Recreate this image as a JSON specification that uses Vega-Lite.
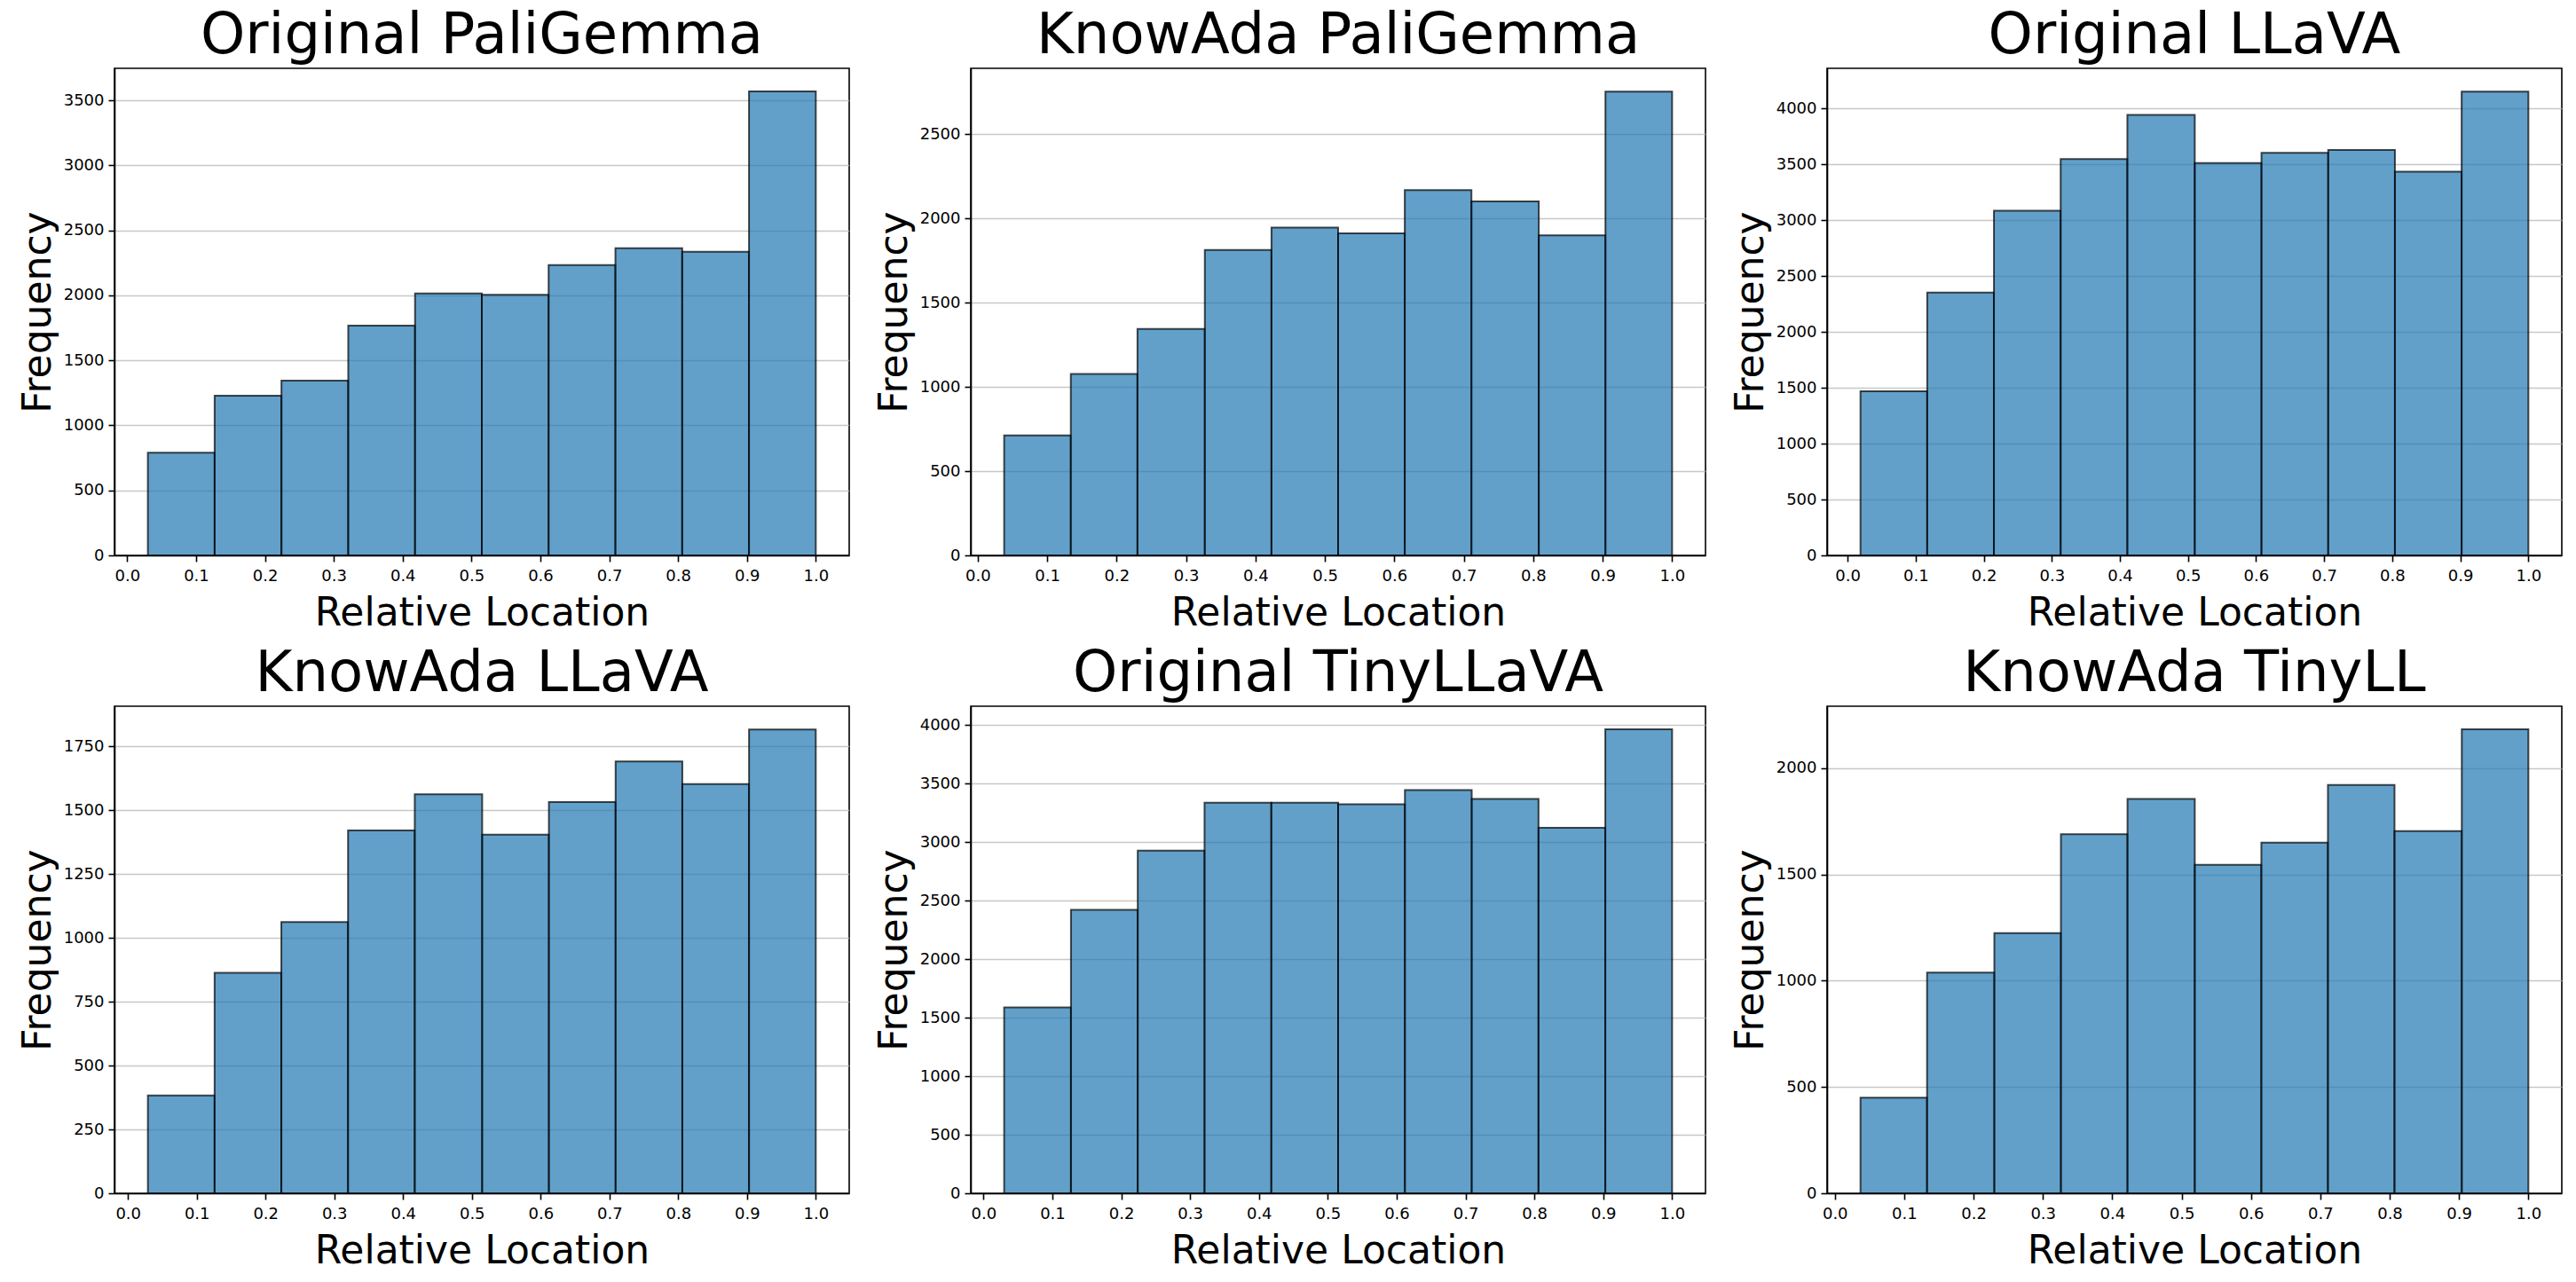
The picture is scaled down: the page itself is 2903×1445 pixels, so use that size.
{
  "$schema": "https://vega.github.io/schema/vega-lite/v6.json",
  "background": "white",
  "padding": {"left": 20, "top": 8, "right": 0, "bottom": 0},
  "bounds": "flush",
  "columns": 3,
  "spacing": {"row": 170, "column": 137},
  "data": {
    "values": [
      {"panel": "Original PaliGemma", "start": 0.030, "end": 0.127, "count": 790},
      {"panel": "Original PaliGemma", "start": 0.127, "end": 0.224, "count": 1228},
      {"panel": "Original PaliGemma", "start": 0.224, "end": 0.321, "count": 1345},
      {"panel": "Original PaliGemma", "start": 0.321, "end": 0.418, "count": 1768},
      {"panel": "Original PaliGemma", "start": 0.418, "end": 0.515, "count": 2015},
      {"panel": "Original PaliGemma", "start": 0.515, "end": 0.612, "count": 2005},
      {"panel": "Original PaliGemma", "start": 0.612, "end": 0.709, "count": 2233},
      {"panel": "Original PaliGemma", "start": 0.709, "end": 0.806, "count": 2363},
      {"panel": "Original PaliGemma", "start": 0.806, "end": 0.903, "count": 2335},
      {"panel": "Original PaliGemma", "start": 0.903, "end": 1.000, "count": 3568},
      {"panel": "KnowAda PaliGemma", "start": 0.038, "end": 0.134, "count": 712},
      {"panel": "KnowAda PaliGemma", "start": 0.134, "end": 0.230, "count": 1076},
      {"panel": "KnowAda PaliGemma", "start": 0.230, "end": 0.327, "count": 1344},
      {"panel": "KnowAda PaliGemma", "start": 0.327, "end": 0.423, "count": 1812},
      {"panel": "KnowAda PaliGemma", "start": 0.423, "end": 0.519, "count": 1945},
      {"panel": "KnowAda PaliGemma", "start": 0.519, "end": 0.615, "count": 1911},
      {"panel": "KnowAda PaliGemma", "start": 0.615, "end": 0.711, "count": 2168},
      {"panel": "KnowAda PaliGemma", "start": 0.711, "end": 0.808, "count": 2100},
      {"panel": "KnowAda PaliGemma", "start": 0.808, "end": 0.904, "count": 1899},
      {"panel": "KnowAda PaliGemma", "start": 0.904, "end": 1.000, "count": 2752},
      {"panel": "Original LLaVA", "start": 0.019, "end": 0.117, "count": 1468},
      {"panel": "Original LLaVA", "start": 0.117, "end": 0.215, "count": 2352},
      {"panel": "Original LLaVA", "start": 0.215, "end": 0.313, "count": 3083},
      {"panel": "Original LLaVA", "start": 0.313, "end": 0.411, "count": 3547},
      {"panel": "Original LLaVA", "start": 0.411, "end": 0.510, "count": 3941},
      {"panel": "Original LLaVA", "start": 0.510, "end": 0.608, "count": 3510},
      {"panel": "Original LLaVA", "start": 0.608, "end": 0.706, "count": 3602},
      {"panel": "Original LLaVA", "start": 0.706, "end": 0.804, "count": 3627},
      {"panel": "Original LLaVA", "start": 0.804, "end": 0.902, "count": 3434},
      {"panel": "Original LLaVA", "start": 0.902, "end": 1.000, "count": 4150},
      {"panel": "KnowAda LLaVA", "start": 0.029, "end": 0.126, "count": 383},
      {"panel": "KnowAda LLaVA", "start": 0.126, "end": 0.223, "count": 863},
      {"panel": "KnowAda LLaVA", "start": 0.223, "end": 0.320, "count": 1062},
      {"panel": "KnowAda LLaVA", "start": 0.320, "end": 0.417, "count": 1421},
      {"panel": "KnowAda LLaVA", "start": 0.417, "end": 0.515, "count": 1562},
      {"panel": "KnowAda LLaVA", "start": 0.515, "end": 0.612, "count": 1404},
      {"panel": "KnowAda LLaVA", "start": 0.612, "end": 0.709, "count": 1532},
      {"panel": "KnowAda LLaVA", "start": 0.709, "end": 0.806, "count": 1691},
      {"panel": "KnowAda LLaVA", "start": 0.806, "end": 0.903, "count": 1602},
      {"panel": "KnowAda LLaVA", "start": 0.903, "end": 1.000, "count": 1816},
      {"panel": "Original TinyLLaVA", "start": 0.030, "end": 0.127, "count": 1589},
      {"panel": "Original TinyLLaVA", "start": 0.127, "end": 0.224, "count": 2422},
      {"panel": "Original TinyLLaVA", "start": 0.224, "end": 0.321, "count": 2929},
      {"panel": "Original TinyLLaVA", "start": 0.321, "end": 0.418, "count": 3339},
      {"panel": "Original TinyLLaVA", "start": 0.418, "end": 0.515, "count": 3339},
      {"panel": "Original TinyLLaVA", "start": 0.515, "end": 0.612, "count": 3325},
      {"panel": "Original TinyLLaVA", "start": 0.612, "end": 0.709, "count": 3447},
      {"panel": "Original TinyLLaVA", "start": 0.709, "end": 0.806, "count": 3370},
      {"panel": "Original TinyLLaVA", "start": 0.806, "end": 0.903, "count": 3125},
      {"panel": "Original TinyLLaVA", "start": 0.903, "end": 1.000, "count": 3965},
      {"panel": "KnowAda TinyLL", "start": 0.037, "end": 0.133, "count": 450},
      {"panel": "KnowAda TinyLL", "start": 0.133, "end": 0.230, "count": 1039},
      {"panel": "KnowAda TinyLL", "start": 0.230, "end": 0.326, "count": 1224},
      {"panel": "KnowAda TinyLL", "start": 0.326, "end": 0.422, "count": 1690},
      {"panel": "KnowAda TinyLL", "start": 0.422, "end": 0.519, "count": 1856},
      {"panel": "KnowAda TinyLL", "start": 0.519, "end": 0.615, "count": 1546},
      {"panel": "KnowAda TinyLL", "start": 0.615, "end": 0.711, "count": 1650},
      {"panel": "KnowAda TinyLL", "start": 0.711, "end": 0.807, "count": 1921},
      {"panel": "KnowAda TinyLL", "start": 0.807, "end": 0.904, "count": 1704},
      {"panel": "KnowAda TinyLL", "start": 0.904, "end": 1.000, "count": 2183}
    ]
  },
  "concat": [
    {
      "title": "Original PaliGemma",
      "width": 828, "height": 549,
      "transform": [{"filter": "datum.panel === 'Original PaliGemma'"}],
      "mark": {"type": "rect", "fill": "#1f77b4", "fillOpacity": 0.7, "stroke": "black", "strokeOpacity": 0.7, "strokeWidth": 2},
      "encoding": {
        "x": {"field": "start", "type": "quantitative", "title": "Relative Location",
              "scale": {"domain": [-0.0185, 1.0485], "nice": false, "zero": false},
              "axis": {"values": [0, 0.1, 0.2, 0.3, 0.4, 0.5, 0.6, 0.7, 0.8, 0.9, 1.0], "format": ".1f"}},
        "x2": {"field": "end"},
        "y": {"field": "count", "type": "quantitative", "title": "Frequency",
              "scale": {"domain": [0, 3746], "nice": false},
              "axis": {"values": [0, 500, 1000, 1500, 2000, 2500, 3000, 3500], "format": "d"}},
        "y2": {"datum": 0}
      }
    },
    {
      "title": "KnowAda PaliGemma",
      "width": 828, "height": 549,
      "transform": [{"filter": "datum.panel === 'KnowAda PaliGemma'"}],
      "mark": {"type": "rect", "fill": "#1f77b4", "fillOpacity": 0.7, "stroke": "black", "strokeOpacity": 0.7, "strokeWidth": 2},
      "encoding": {
        "x": {"field": "start", "type": "quantitative", "title": "Relative Location",
              "scale": {"domain": [-0.0101, 1.0481], "nice": false, "zero": false},
              "axis": {"values": [0, 0.1, 0.2, 0.3, 0.4, 0.5, 0.6, 0.7, 0.8, 0.9, 1.0], "format": ".1f"}},
        "x2": {"field": "end"},
        "y": {"field": "count", "type": "quantitative", "title": "Frequency",
              "scale": {"domain": [0, 2890], "nice": false},
              "axis": {"values": [0, 500, 1000, 1500, 2000, 2500], "format": "d"}},
        "y2": {"datum": 0}
      }
    },
    {
      "title": "Original LLaVA",
      "width": 828, "height": 549,
      "transform": [{"filter": "datum.panel === 'Original LLaVA'"}],
      "mark": {"type": "rect", "fill": "#1f77b4", "fillOpacity": 0.7, "stroke": "black", "strokeOpacity": 0.7, "strokeWidth": 2},
      "encoding": {
        "x": {"field": "start", "type": "quantitative", "title": "Relative Location",
              "scale": {"domain": [-0.0301, 1.0491], "nice": false, "zero": false},
              "axis": {"values": [0, 0.1, 0.2, 0.3, 0.4, 0.5, 0.6, 0.7, 0.8, 0.9, 1.0], "format": ".1f"}},
        "x2": {"field": "end"},
        "y": {"field": "count", "type": "quantitative", "title": "Frequency",
              "scale": {"domain": [0, 4358], "nice": false},
              "axis": {"values": [0, 500, 1000, 1500, 2000, 2500, 3000, 3500, 4000], "format": "d"}},
        "y2": {"datum": 0}
      }
    },
    {
      "title": "KnowAda LLaVA",
      "width": 828, "height": 549,
      "transform": [{"filter": "datum.panel === 'KnowAda LLaVA'"}],
      "mark": {"type": "rect", "fill": "#1f77b4", "fillOpacity": 0.7, "stroke": "black", "strokeOpacity": 0.7, "strokeWidth": 2},
      "encoding": {
        "x": {"field": "start", "type": "quantitative", "title": "Relative Location",
              "scale": {"domain": [-0.0196, 1.0486], "nice": false, "zero": false},
              "axis": {"values": [0, 0.1, 0.2, 0.3, 0.4, 0.5, 0.6, 0.7, 0.8, 0.9, 1.0], "format": ".1f"}},
        "x2": {"field": "end"},
        "y": {"field": "count", "type": "quantitative", "title": "Frequency",
              "scale": {"domain": [0, 1907], "nice": false},
              "axis": {"values": [0, 250, 500, 750, 1000, 1250, 1500, 1750], "format": "d"}},
        "y2": {"datum": 0}
      }
    },
    {
      "title": "Original TinyLLaVA",
      "width": 828, "height": 549,
      "transform": [{"filter": "datum.panel === 'Original TinyLLaVA'"}],
      "mark": {"type": "rect", "fill": "#1f77b4", "fillOpacity": 0.7, "stroke": "black", "strokeOpacity": 0.7, "strokeWidth": 2},
      "encoding": {
        "x": {"field": "start", "type": "quantitative", "title": "Relative Location",
              "scale": {"domain": [-0.0185, 1.0485], "nice": false, "zero": false},
              "axis": {"values": [0, 0.1, 0.2, 0.3, 0.4, 0.5, 0.6, 0.7, 0.8, 0.9, 1.0], "format": ".1f"}},
        "x2": {"field": "end"},
        "y": {"field": "count", "type": "quantitative", "title": "Frequency",
              "scale": {"domain": [0, 4163], "nice": false},
              "axis": {"values": [0, 500, 1000, 1500, 2000, 2500, 3000, 3500, 4000], "format": "d"}},
        "y2": {"datum": 0}
      }
    },
    {
      "title": "KnowAda TinyLL",
      "width": 828, "height": 549,
      "transform": [{"filter": "datum.panel === 'KnowAda TinyLL'"}],
      "mark": {"type": "rect", "fill": "#1f77b4", "fillOpacity": 0.7, "stroke": "black", "strokeOpacity": 0.7, "strokeWidth": 2},
      "encoding": {
        "x": {"field": "start", "type": "quantitative", "title": "Relative Location",
              "scale": {"domain": [-0.0112, 1.0482], "nice": false, "zero": false},
              "axis": {"values": [0, 0.1, 0.2, 0.3, 0.4, 0.5, 0.6, 0.7, 0.8, 0.9, 1.0], "format": ".1f"}},
        "x2": {"field": "end"},
        "y": {"field": "count", "type": "quantitative", "title": "Frequency",
              "scale": {"domain": [0, 2292], "nice": false},
              "axis": {"values": [0, 500, 1000, 1500, 2000], "format": "d"}},
        "y2": {"datum": 0}
      }
    }
  ],
  "config": {
    "font": "DejaVu Sans",
    "view": {"stroke": "black", "strokeWidth": 1.6},
    "title": {"font": "DejaVu Sans", "fontSize": 64, "fontWeight": "normal", "color": "black", "offset": 0},
    "axis": {
      "labelFont": "DejaVu Sans", "labelFontSize": 18, "labelColor": "black",
      "titleFont": "DejaVu Sans", "titleFontSize": 44, "titleFontWeight": "normal", "titleColor": "black",
      "tickColor": "black", "tickSize": 7, "tickWidth": 1.6,
      "domainColor": "black", "domainWidth": 1.6,
      "labelFlush": false, "labelOverlap": false, "labelPadding": 5,
      "gridColor": "#b0b0b0", "gridOpacity": 0.7, "gridWidth": 1.6,
      "zindex": 1
    },
    "axisX": {"grid": false, "labelPadding": 7, "titlePadding": 11},
    "axisY": {"grid": true, "titlePadding": 6}
  }
}
